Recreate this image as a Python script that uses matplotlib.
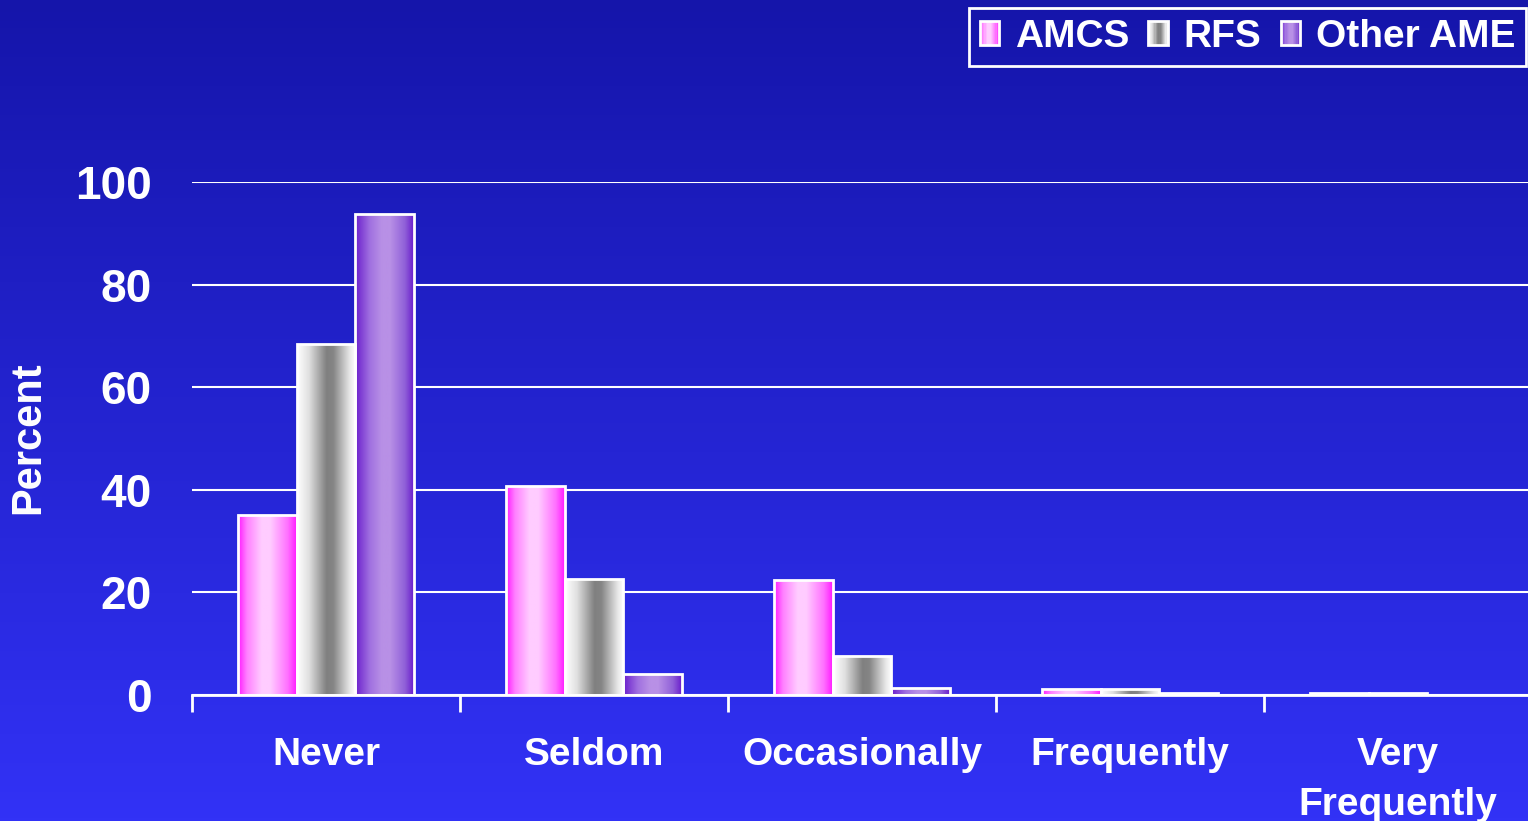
import numpy as np
import matplotlib
matplotlib.use("Agg")
import matplotlib.pyplot as plt
from matplotlib.colors import LinearSegmentedColormap
from matplotlib.patches import Rectangle
from matplotlib.legend_handler import HandlerBase

# ---- data ----
categories = ["Never", "Seldom", "Occasionally", "Frequently", "Very\nFrequently"]
series_names = ["AMCS", "RFS", "Other AME"]
amcs = [35.0, 40.7, 22.4, 1.2, 0.4]
rfs = [68.4, 22.6, 7.6, 1.2, 0.4]
other_ame = [93.8, 4.1, 1.4, 0.4, 0.0]
y_ticks = [0, 20, 40, 60, 80, 100]

plt.rcParams['font.family'] = ['Liberation Sans', 'DejaVu Sans']
plt.rcParams['font.weight'] = 'bold'

# horizontal shading for each series
cmaps = [
    LinearSegmentedColormap.from_list("amcs", [(0, '#ff1aff'), (0.15, '#ff80ff'), (0.4, '#ffccff'),
                                               (0.55, '#ffccff'), (0.85, '#ff70ff'), (1, '#ff1aff')]),
    LinearSegmentedColormap.from_list("rfs", [(0, '#ffffff'), (0.2, '#e0e0e0'), (0.5, '#808080'),
                                              (0.62, '#858585'), (0.9, '#e8e8e8'), (1, '#ffffff')]),
    LinearSegmentedColormap.from_list("other", [(0, '#6a1ecc'), (0.25, '#a070e0'), (0.45, '#b890e6'),
                                                (0.6, '#b890e6'), (0.85, '#9060d8'), (1, '#6a1ecc')]),
]

W, H = 1528, 821
fig = plt.figure(figsize=(W / 100, H / 100), dpi=100)

# vertical background gradient
bg = fig.add_axes([0, 0, 1, 1], zorder=-10)
bg.imshow(np.linspace(0, 1, 256).reshape(-1, 1),
          cmap=LinearSegmentedColormap.from_list('bg', ['#1515aa', '#3232f6']),
          aspect='auto', extent=[0, 1, 0, 1])
bg.axis('off')

ax = fig.add_axes([192 / W, 126 / H, 1340 / W, 513 / H])
ax.patch.set_alpha(0)

x = np.arange(len(categories))
width = 0.22
offsets = [-width, 0, width]
grad = np.linspace(0, 1, 128).reshape(1, -1)

for vals, off, cmap in zip([amcs, rfs, other_ame], offsets, cmaps):
    bars = ax.bar(x + off, vals, width, facecolor='none', edgecolor='white',
                  linewidth=2, zorder=3)
    for rect in bars:
        h = rect.get_height()
        if h <= 0:
            continue
        x0 = rect.get_x()
        im = ax.imshow(grad, cmap=cmap, aspect='auto',
                       extent=[x0, x0 + rect.get_width(), 0, h], zorder=2.5)
        im.set_clip_path(rect)

ax.set_xlim(-0.5, len(categories) - 0.5)
ax.set_ylim(0, 100)

# axes styling
for s in ['left', 'top', 'right']:
    ax.spines[s].set_visible(False)
ax.spines['bottom'].set_color('white')
ax.spines['bottom'].set_linewidth(2)
ax.spines['bottom'].set_zorder(4)

ax.set_yticks(y_ticks)
ax.tick_params(axis='y', length=0, pad=29, labelsize=33, labelcolor='white')
ax.yaxis.grid(True, color='white', linewidth=1.5)
ax.set_axisbelow(True)

ax.set_xticks(np.arange(len(categories) + 1) - 0.5)
ax.set_xticklabels([])
ax.tick_params(axis='x', which='major', length=12, width=2, color='white', direction='out')
ax.set_xticks(x, minor=True)
ax.set_xticklabels(categories, minor=True)
ax.tick_params(axis='x', which='minor', length=0, pad=30, labelsize=28, labelcolor='white')
for lab in ax.get_xticklabels(minor=True):
    lab.set_linespacing(1.5)

fig.text(28 / W, 1 - 438 / H, 'Percent', rotation=90, ha='center', va='center',
         fontsize=30, color='white', fontweight='bold')


class GradientHandler(HandlerBase):
    def __init__(self, cmap):
        super().__init__()
        self.cmap = cmap

    def create_artists(self, legend, orig_handle, xdescent, ydescent,
                       width, height, fontsize, trans):
        n = 16
        arts = []
        for i in range(n):
            arts.append(Rectangle((-xdescent + width * i / n, -ydescent), width / n, height,
                                  facecolor=self.cmap((i + 0.5) / n), edgecolor='none',
                                  transform=trans))
        arts.append(Rectangle((-xdescent, -ydescent), width, height, facecolor='none',
                              edgecolor='white', linewidth=2, transform=trans))
        return arts


handles = [Rectangle((0, 0), 1, 1) for _ in series_names]
leg = fig.legend(handles, series_names, loc='upper right',
                 bbox_to_anchor=(1526 / W, 1 - 8 / H), ncol=3,
                 handler_map={h: GradientHandler(c) for h, c in zip(handles, cmaps)},
                 frameon=True, fancybox=False, edgecolor='white', facecolor='none',
                 framealpha=1,
                 prop={'size': 28, 'weight': 'bold'}, labelcolor='white',
                 handlelength=0.5, handleheight=0.55, handletextpad=0.4,
                 columnspacing=0.5, borderpad=0.28, borderaxespad=0)
leg.get_frame().set_linewidth(2)

fig.savefig('out.png', dpi=100)
